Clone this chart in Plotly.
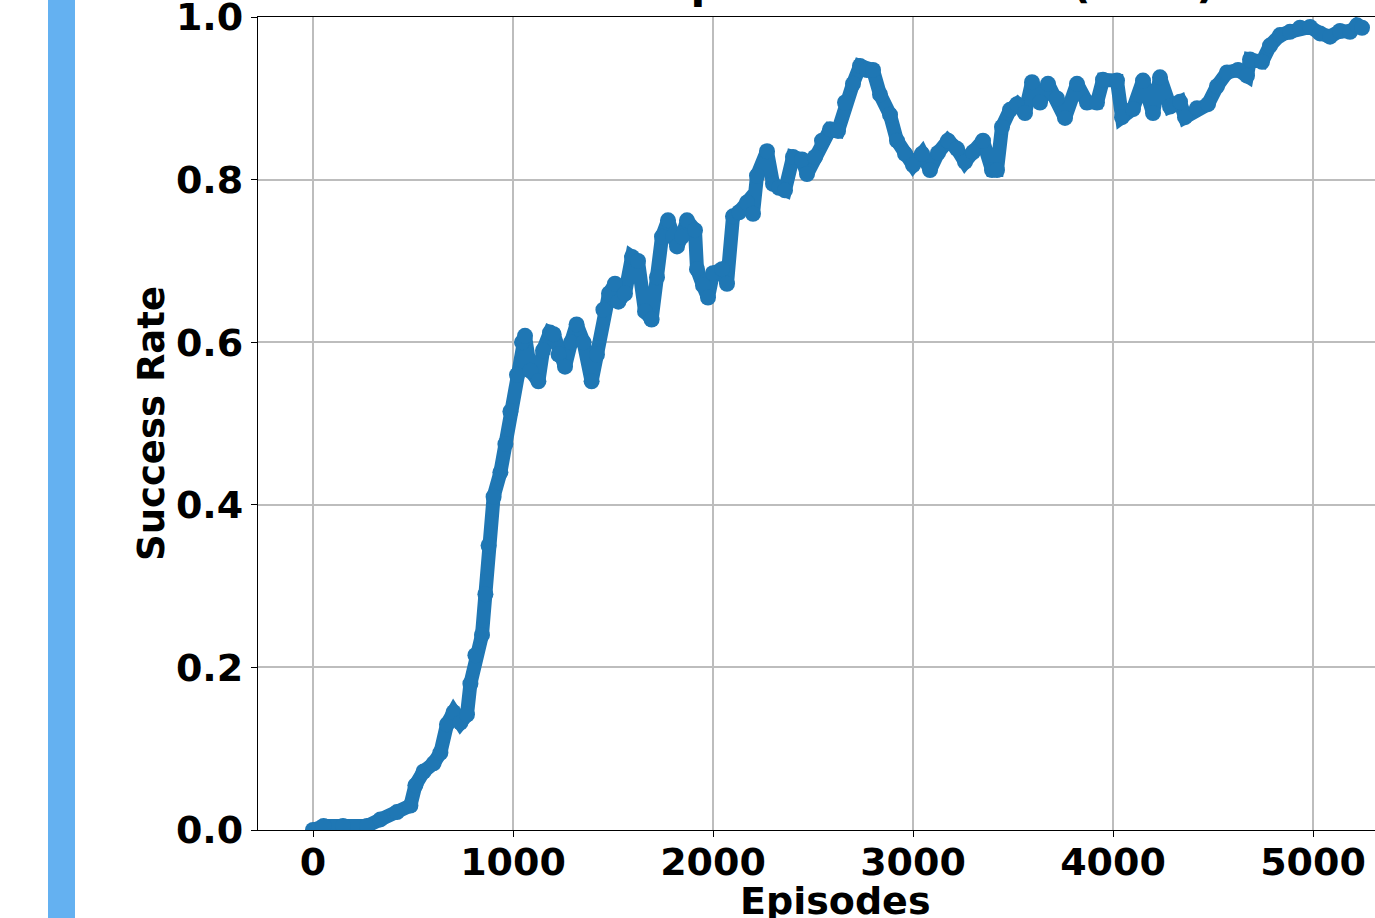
import plotly.graph_objects as go

# ---- data ----
episodes = [0, 53, 150, 270, 337, 420, 487, 512, 553, 603, 637, 670, 703, 737, 770, 787, 812, 845, 862, 878,
            903, 937, 962, 987, 1020, 1045, 1060, 1087, 1127, 1150, 1185, 1203, 1228, 1260, 1290, 1318, 1353,
            1393, 1420, 1452, 1480, 1510, 1527, 1560, 1595, 1625, 1660, 1693, 1720, 1745, 1775, 1800, 1820,
            1845, 1870, 1910, 1920, 1950, 1975, 2000, 2045, 2070, 2100, 2130, 2170, 2200, 2220, 2270, 2300,
            2330, 2360, 2400, 2445, 2470, 2510, 2545, 2585, 2625, 2660, 2700, 2735, 2770, 2800, 2835, 2885,
            2920, 2960, 3000, 3045, 3085, 3125, 3175, 3220, 3260, 3300, 3350, 3395, 3420, 3445, 3485, 3520,
            3560, 3595, 3635, 3675, 3720, 3760, 3820, 3870, 3920, 3950, 4020, 4045, 4100, 4150, 4200, 4235,
            4285, 4335, 4360, 4420, 4475, 4520, 4570, 4625, 4670, 4685, 4745, 4785, 4835, 4885, 4935, 4985,
            5035, 5085, 5135, 5185, 5220, 5245]
success_rate = [0.0, 0.005, 0.005, 0.005, 0.013, 0.022, 0.03, 0.055, 0.072, 0.082, 0.095, 0.13, 0.145, 0.132,
                0.142, 0.18, 0.215, 0.24, 0.29, 0.35, 0.41, 0.44, 0.475, 0.515, 0.56, 0.6, 0.608, 0.565, 0.552,
                0.59, 0.612, 0.61, 0.585, 0.57, 0.6, 0.622, 0.6, 0.552, 0.585, 0.64, 0.66, 0.672, 0.65, 0.66,
                0.705, 0.7, 0.638, 0.628, 0.68, 0.73, 0.75, 0.73, 0.718, 0.73, 0.75, 0.738, 0.69, 0.67, 0.655,
                0.685, 0.69, 0.672, 0.755, 0.76, 0.772, 0.758, 0.805, 0.835, 0.795, 0.79, 0.787, 0.828, 0.825,
                0.807, 0.828, 0.848, 0.862, 0.86, 0.895, 0.918, 0.94, 0.935, 0.935, 0.905, 0.88, 0.848, 0.832,
                0.818, 0.832, 0.812, 0.833, 0.848, 0.838, 0.822, 0.834, 0.848, 0.812, 0.812, 0.865, 0.886,
                0.893, 0.882, 0.92, 0.895, 0.918, 0.9, 0.876, 0.918, 0.895, 0.895, 0.923, 0.922, 0.877, 0.887,
                0.922, 0.882, 0.926, 0.89, 0.896, 0.877, 0.888, 0.893, 0.915, 0.932, 0.935, 0.928, 0.948,
                0.945, 0.965, 0.978, 0.982, 0.987, 0.988, 0.98, 0.976, 0.983, 0.982, 0.99, 0.987]

x_ticks = [0, 1000, 2000, 3000, 4000, 5000]
y_ticks = [0.0, 0.2, 0.4, 0.6, 0.8, 1.0]
y_tick_labels = ["0.0", "0.2", "0.4", "0.6", "0.8", "1.0"]

title_text = "Multi-step Success Rate (EMA)"
x_label = "Episodes"
y_label = "Success Rate"

# ---- figure ----
W, H = 1375, 918
ML, MR, MT, MB = 258, 0, 17, 88
plot_w = W - ML - MR
plot_h = H - MT - MB

def px_to_paper_x(px):
    return (px - ML) / plot_w

def px_to_paper_y(py):
    return (H - MB - py) / plot_h

FONT = "DejaVu Sans"
BLUE = "#1f77b4"

fig = go.Figure()
fig.add_trace(go.Scatter(
    x=episodes, y=success_rate, mode="lines+markers",
    line=dict(color=BLUE, width=14),
    marker=dict(color=BLUE, size=16, line=dict(width=0)),
    showlegend=False,
))

axis_common = dict(
    showline=True, linecolor="black", linewidth=1.3,
    showgrid=True, gridcolor="#bdbdbd", gridwidth=1.5,
    zeroline=False,
    ticks="outside", ticklen=6, tickwidth=1.3, tickcolor="black",
    tickfont=dict(family=FONT, size=38, color="black", weight="bold"),
    ticklabeloverflow="allow",
    automargin=False,
)

fig.update_xaxes(
    range=[-275, 5310], tickmode="array", tickvals=x_ticks,
    ticktext=[str(v) for v in x_ticks], mirror=True, ticklabelstandoff=-8,
    **axis_common,
)
fig.update_yaxes(
    range=[0, 1.0002], tickmode="array", tickvals=y_ticks, ticktext=y_tick_labels, mirror=False,
    **axis_common,
)

# axis titles as annotations for exact placement
fig.add_annotation(
    text=x_label, xref="paper", yref="paper",
    x=px_to_paper_x(835), y=px_to_paper_y(877),
    xanchor="center", yanchor="top", showarrow=False,
    font=dict(family=FONT, size=38, color="black", weight="bold"),
)
fig.add_annotation(
    text=y_label, xref="paper", yref="paper", textangle=-90,
    x=px_to_paper_x(151), y=px_to_paper_y(424),
    xanchor="center", yanchor="middle", showarrow=False,
    font=dict(family=FONT, size=37, color="black", weight="bold"),
)

# light-blue vertical bar at left edge
fig.add_shape(
    type="rect", xref="paper", yref="paper",
    x0=px_to_paper_x(48), x1=px_to_paper_x(75),
    y0=px_to_paper_y(H + 20), y1=px_to_paper_y(-20),
    fillcolor="#64b1f1", line=dict(width=0), layer="above",
)

# title, mostly cut off by the top edge of the page
fig.add_annotation(
    text=title_text, xref="paper", yref="paper",
    x=px_to_paper_x(845), y=px_to_paper_y(10),
    xanchor="center", yanchor="bottom", showarrow=False,
    font=dict(family=FONT, size=43, color="black", weight="bold"),
)

fig.update_layout(
    width=W, height=H,
    margin=dict(l=ML, r=MR, t=MT, b=MB, autoexpand=False),
    paper_bgcolor="white", plot_bgcolor="white",
)

fig.write_html(
    "out.html",
    config={"displayModeBar": False},
    post_script="document.body.style.margin='0';document.body.style.overflow='hidden';",
)
